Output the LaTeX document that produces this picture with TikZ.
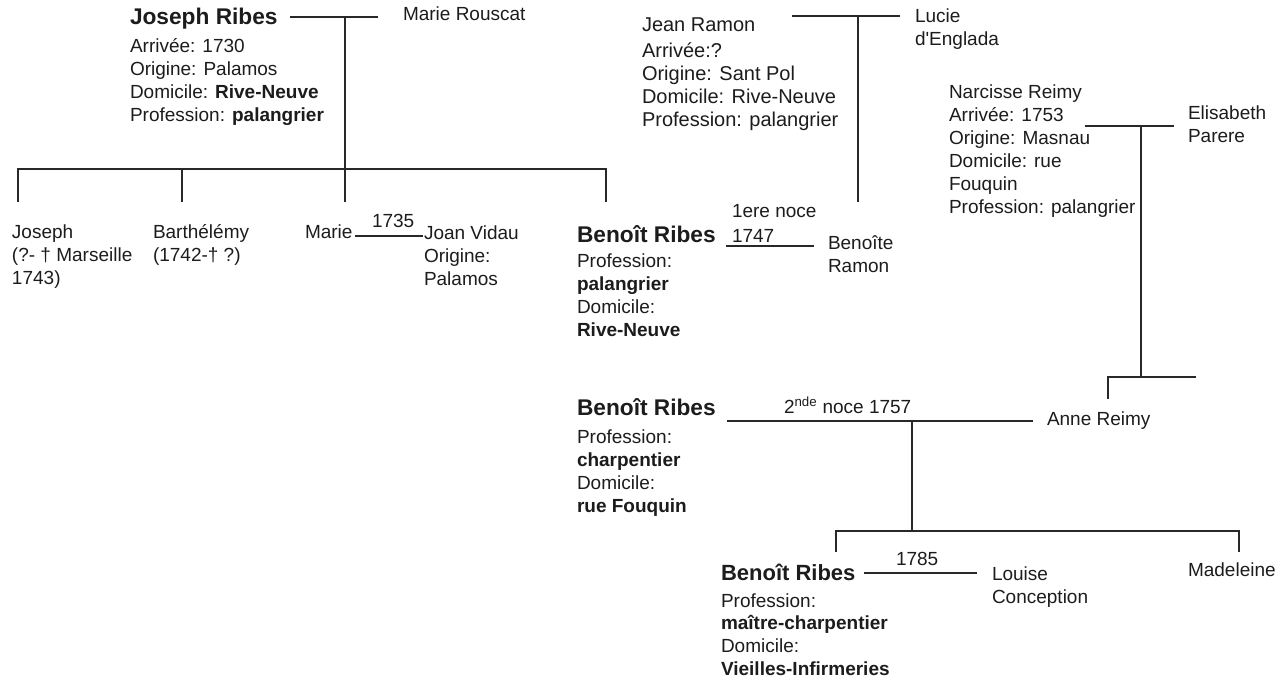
\documentclass[tikz,border=0pt]{standalone}
\usepackage{fontspec}
\setmainfont{Liberation Sans}
\newfontfamily\lsplain{Liberation Sans}
\definecolor{tc}{RGB}{28,28,28}
\definecolor{lc}{RGB}{40,40,40}
\newcommand\myTopStrut{\rule{0pt}{20pt}}
\tikzset{
  txt/.style={font=\fontsize{19}{23}\selectfont, inner sep=0pt, outer sep=0pt, text=tc, align=left, anchor=north west},
  txtb/.style={font=\fontsize{20}{23}\selectfont, inner sep=0pt, outer sep=0pt, text=tc, align=left, anchor=north west},
  nm/.style={font=\fontsize{22.7}{26}\selectfont\bfseries, inner sep=0pt, outer sep=0pt, anchor=base west, text=tc},
  one/.style={font=\fontsize{19}{23}\selectfont, inner sep=0pt, outer sep=0pt, anchor=base west, text=tc},
  oneb/.style={font=\fontsize{20}{23}\selectfont, inner sep=0pt, outer sep=0pt, anchor=base west, text=tc},
  ln/.style={line width=1.8pt, draw=lc}
}
\begin{document}
\begin{tikzpicture}[x=1pt,y=-1pt]
\useasboundingbox (0,0) rectangle (1277,681);

% ---- Joseph Ribes & Marie Rouscat
\node[nm] (josephR) at (130,24) {Joseph Ribes};
\node[txt] (josephD) at (130,32) {\myTopStrut Arrivée: 1730\\Origine: Palamos\\Domicile: \textbf{Rive-Neuve}\\Profession: \textbf{palangrier}};
\node[one] (rouscat) at (403,20) {Marie Rouscat};

% ---- children of Joseph Ribes
\node[txt] (joseph) at (12,218) {\myTopStrut Joseph\\(?- † Marseille\\1743)};
\node[txt] (barth) at (153,218) {\myTopStrut Barthélémy\\(1742-† ?)};
\node[one] (marie) at (305,238) {Marie};
\node[one] (y1735) at (372,227) {1735};
\node[txt] (vidau) at (424,219) {\myTopStrut Joan Vidau\\Origine:\\Palamos};

% ---- Jean Ramon & Lucie d'Englada
\node[oneb] (ramon) at (642,31) {Jean Ramon};
\node[txtb] (ramonD) at (642,37) {\myTopStrut Arrivée:?\\Origine: Sant Pol\\Domicile: Rive-Neuve\\Profession: palangrier};
\node[txt] (lucie) at (915,2) {\myTopStrut Lucie\\d{\lsplain'}Englada};

% ---- Narcisse Reimy & Elisabeth Parere
\node[txt] (narcisse) at (949,78) {\myTopStrut Narcisse Reimy\\Arrivée: 1753\\Origine: Masnau\\Domicile: rue\\Fouquin\\Profession: palangrier};
\node[txt] (elisabeth) at (1188,99) {\myTopStrut Elisabeth\\Parere};

% ---- Benoit Ribes, first marriage
\node[nm] (benoit1) at (577,242) {Benoît Ribes};
\node[txt, font=\fontsize{19}{23.3}\selectfont] (benoit1D) at (577,247) {\myTopStrut Profession:\\\textbf{palangrier}\\Domicile:\\\textbf{Rive-Neuve}};
\node[one] (noce1) at (732,217) {1ere noce};
\node[one] (y1747) at (732,242) {1747};
\node[txt] (benoite) at (828,229) {\myTopStrut Benoîte\\Ramon};

% ---- Benoit Ribes, second marriage
\node[nm] (benoit2) at (577,415) {Benoît Ribes};
\node[txt] (benoit2D) at (577,423) {\myTopStrut Profession:\\\textbf{charpentier}\\Domicile:\\\textbf{rue Fouquin}};
\node[one] (noce2) at (784,413) {2\textsuperscript{nde} noce 1757};
\node[one] (anne) at (1047,425) {Anne Reimy};

% ---- Benoit Ribes, son
\node[nm, font=\fontsize{22}{26}\selectfont\bfseries] (benoit3) at (721,580) {Benoît Ribes};
\node[txt, font=\fontsize{19}{22.7}\selectfont] (benoit3D) at (721,587) {\myTopStrut Profession:\\\textbf{maître-charpentier}\\Domicile:\\\textbf{Vieilles-Infirmeries}};
\node[one] (y1785) at (896,565) {1785};
\node[txt] (louise) at (992,560) {\myTopStrut Louise\\Conception};
\node[one] (madeleine) at (1188,576) {Madeleine};

% ---- junction coordinates
\coordinate (jA) at (290,17);
\coordinate (jB) at (378,17);
\coordinate (jM) at (345,17);
\coordinate (c1t) at (18,169);
\coordinate (c1b) at (18,202);
\coordinate (c2t) at (182,169);
\coordinate (c2b) at (182,202);
\coordinate (c3b) at (345,202);
\coordinate (c4t) at (606,169);
\coordinate (c4b) at (606,202);
\coordinate (mjA) at (355,236);
\coordinate (mjB) at (423,236);
\coordinate (rA) at (792,16);
\coordinate (rB) at (900,16);
\coordinate (rM) at (858,16);
\coordinate (rD) at (858,202);
\coordinate (b1A) at (726,246);
\coordinate (b1B) at (814,246);
\coordinate (nA) at (1085,126);
\coordinate (nB) at (1174,126);
\coordinate (nM) at (1141,126);
\coordinate (nD) at (1141,377);
\coordinate (aR) at (1196,377);
\coordinate (aL) at (1108,377);
\coordinate (aD) at (1108,399);
\coordinate (b2A) at (727,421);
\coordinate (b2B) at (1033,421);
\coordinate (b2M) at (912,421);
\coordinate (b2D) at (912,531);
\coordinate (kLt) at (836,531);
\coordinate (kLb) at (836,552);
\coordinate (kRt) at (1239,531);
\coordinate (kRb) at (1239,552);
\coordinate (b3A) at (864,573);
\coordinate (b3B) at (977,573);

% ---- connectors
\draw[ln] (jA) -- (jB);
\draw[ln] (jM) -- (c3b);
\draw[ln] (c1b) -- (c1t) -- (c4t) -- (c4b);
\draw[ln] (c2t) -- (c2b);
\draw[ln] (mjA) -- (mjB);
\draw[ln] (rA) -- (rB);
\draw[ln] (rM) -- (rD);
\draw[ln] (b1A) -- (b1B);
\draw[ln] (nA) -- (nB);
\draw[ln] (nM) -- (nD);
\draw[ln] (aR) -- (aL) -- (aD);
\draw[ln] (b2A) -- (b2B);
\draw[ln] (b2M) -- (b2D);
\draw[ln] (kLb) -- (kLt) -- (kRt) -- (kRb);
\draw[ln] (b3A) -- (b3B);
\end{tikzpicture}
\end{document}
